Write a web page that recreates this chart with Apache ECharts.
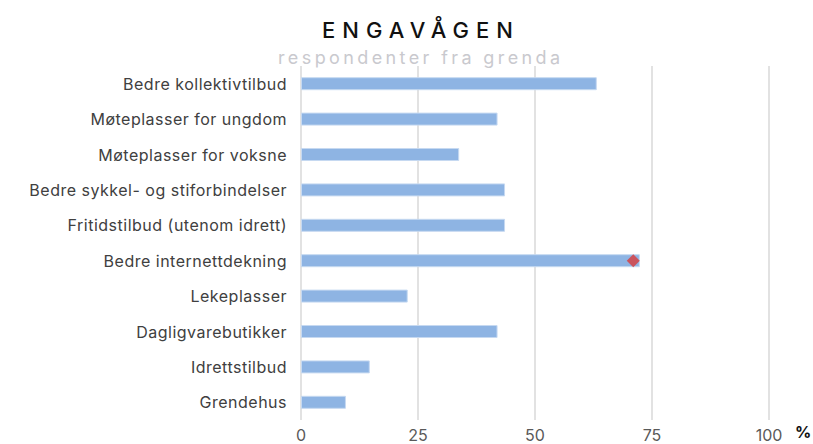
<!DOCTYPE html>
<html>
<head>
<meta charset="utf-8">
<script src="https://cdn.jsdelivr.net/npm/echarts@6/dist/echarts.min.js"></script>
<style>
html,body{margin:0;padding:0;background:#fff;}
#c{width:813px;height:444px;}
</style>
</head>
<body>
<div id="c"></div>
<script>
const titleText = 'ENGAVÅGEN';
const subtitleText = 'respondenter fra grenda';
const categories = [
  'Bedre kollektivtilbud',
  'Møteplasser for ungdom',
  'Møteplasser for voksne',
  'Bedre sykkel- og stiforbindelser',
  'Fritidstilbud (utenom idrett)',
  'Bedre internettdekning',
  'Lekeplasser',
  'Dagligvarebutikker',
  'Idrettstilbud',
  'Grendehus'
];
const barValues = [63.2, 42.0, 33.8, 43.6, 43.6, 72.4, 22.8, 42.0, 14.7, 9.6];
const markerValues = [null, null, null, null, null, 71.0, null, null, null, null];
const xTicks = [0, 25, 50, 75, 100];
const unitLabel = '%';

const chart = echarts.init(document.getElementById('c'), null, {renderer: 'svg'});
chart.setOption({
  animation: false,
  title: [
    {text: titleText, left: 317, top: 14,
     textStyle: {fontFamily: 'Inter', fontSize: 22, fontWeight: 500, color: '#111111'}},
    {text: subtitleText, left: 273, top: 43,
     textStyle: {fontFamily: 'Inter', fontSize: 18, fontWeight: 'normal', color: '#c9c9ce'}}
  ],
  grid: {left: 301, right: 44, top: 66, bottom: 24, containLabel: false, outerBoundsMode: 'none'},
  xAxis: {
    type: 'value', min: xTicks[0], max: xTicks[xTicks.length - 1], interval: 25,
    axisLine: {show: false}, axisTick: {show: false},
    splitLine: {show: true, lineStyle: {color: '#d9d9d9', width: 1.5}},
    axisLabel: {margin: 7, fontFamily: 'Inter', fontSize: 16, color: '#595959', verticalAlign: 'top'},
    name: unitLabel, nameLocation: 'end', nameGap: 26,
    nameTextStyle: {fontFamily: 'Inter', fontSize: 16, fontWeight: 'bold', color: '#111111',
      verticalAlign: 'top', padding: [4, 0, 0, 0]}
  },
  yAxis: {
    type: 'category', data: categories, inverse: true,
    axisLine: {show: false}, axisTick: {show: false}, splitLine: {show: false},
    axisLabel: {margin: 14, fontFamily: 'Inter', fontSize: 16, color: '#404040'}
  },
  series: [
    {type: 'bar', data: barValues, barWidth: 13,
     itemStyle: {color: '#8eb4e3', borderColor: '#c6d9f1', borderWidth: 1}},
    {type: 'scatter', data: markerValues, symbol: 'diamond', symbolSize: 13,
     itemStyle: {color: '#d93b3b'}, z: 5}
  ]
});

function spaceTitles() {
  const targets = {};
  targets[titleText] = 191;
  targets[subtitleText] = 282;
  document.querySelectorAll('#c svg text').forEach(function (t) {
    if (t.dataset.spaced) return;
    const txt = t.textContent;
    const w = targets[txt];
    if (w) {
      t.style.letterSpacing = '0px';
      const len = t.getComputedTextLength();
      const s = (w - len) / (txt.length - 1);
      t.style.letterSpacing = s.toFixed(2) + 'px';
      t.dataset.spaced = '1';
    } else if (categories.indexOf(txt) >= 0) {
      t.style.letterSpacing = '0.5px';
      t.dataset.spaced = '1';
    }
  });
}
chart.on('finished', spaceTitles);
setTimeout(spaceTitles, 50);
requestAnimationFrame(function(){ requestAnimationFrame(spaceTitles); });
</script>
</body>
</html>
